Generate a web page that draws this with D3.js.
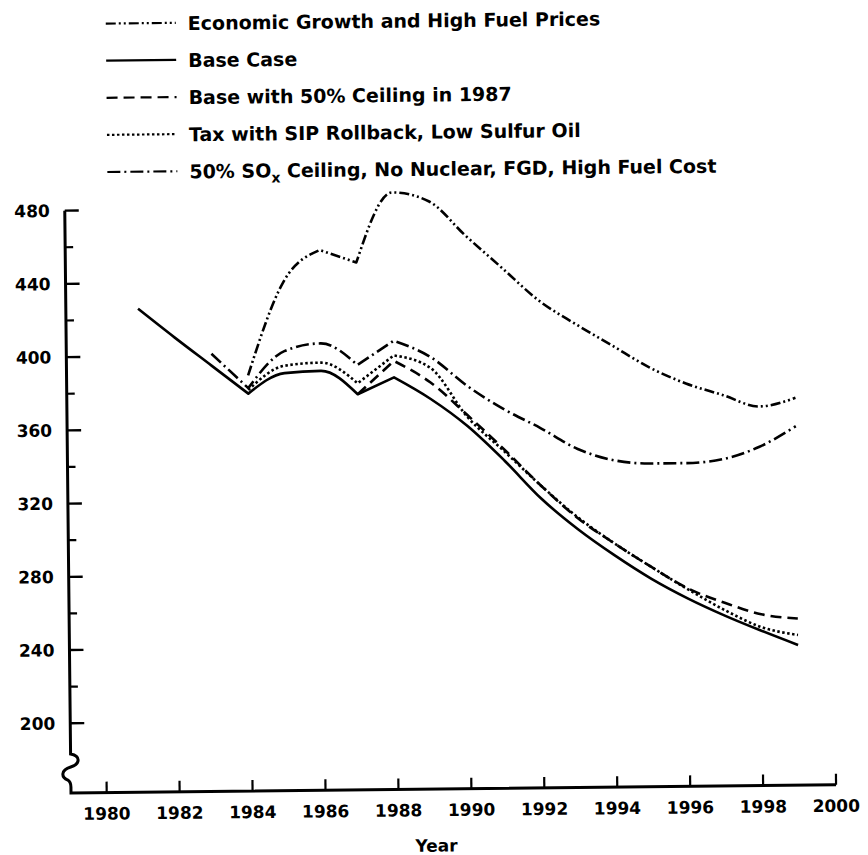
<!DOCTYPE html>
<html>
<head>
<meta charset="utf-8">
<script src="https://cdn.jsdelivr.net/npm/d3@7/dist/d3.min.js"></script>
<style>
  html, body { margin: 0; padding: 0; background: #fff; }
  svg { display: block; }
  text { font-family: "DejaVu Sans", sans-serif; font-weight: bold; fill: #000; }
</style>
</head>
<body>
<div id="chart"></div>
<script>
// Years plotted on the x-axis
const years = [1981, 1982, 1983, 1984, 1985, 1986, 1987, 1988, 1989, 1990,
               1991, 1992, 1993, 1994, 1995, 1996, 1997, 1998, 1999];

// One value per year, null where the case is not drawn
const econGrowth   = [null, null, null, 389, 440, 457, 450, 488, 483, 464, 446, 428, 415, 403, 391, 382, 375.5, 369, 373.5];
const baseCase     = [426, 410, 394.5, 379, 390, 391, 378, 387, 375, 360, 341, 320, 303, 288.5, 275.5, 264.5, 255, 246.5, 238.5];
const baseCeiling  = [null, null, null, null, null, null, 378, 396, 384, 366, 347, 327, 309, 295, 282, 270, 262, 255.5, 253];
const taxRollback  = [null, null, null, 381, 394, 395.5, 384, 399, 392, 365, 346, 327, 309.5, 295, 282, 269.5, 258, 248.5, 244];
const soxCeiling   = [null, null, 401, 382, 402, 406, 394, 407, 398, 382, 369, 358.5, 347, 340.5, 338.5, 338.5, 340.5, 347, 358];

// Legend labels in the order they are listed ("_x" marks the subscript)
const seriesNames = [
    'Economic Growth and High Fuel Prices',
    'Base Case',
    'Base with 50% Ceiling in 1987',
    'Tax with SIP Rollback, Low Sulfur Oil',
    '50% SO_x Ceiling, No Nuclear, FGD, High Fuel Cost'
];
const seriesValues = [econGrowth, baseCase, baseCeiling, taxRollback, soxCeiling];

// Axis ticks
const xTicks = [1980, 1982, 1984, 1986, 1988, 1990, 1992, 1994, 1996, 1998, 2000];
const yTicks = [200, 240, 280, 320, 360, 400, 440, 480];
const yMinorTicks = [220, 260, 300, 340, 380, 420, 460];

class LineChart {
    constructor(_config) {
        this.config = {
            parentElement: _config.parentElement,
            containerWidth: _config.containerWidth,
            containerHeight: _config.containerHeight,
            origin: {x: 71, y: 793},
            xRange: [106.7, 836.1],
            yRange: [723.3, 210.6],
            tilt: -0.613,            // the page is scanned a little crooked
            lineWidth: 2.6,
            axisWidth: 3,
            dashes: ['10,3,2,3,2,3', null, '11,6', '2.5,2.5', '13,4,2,4'],
            legendTop: 24,
            legendStep: 37.1,
            legendLineX: [114, 184],
            legendTextX: 196
        };
        this.initVis();
    }

    initVis() {
        let vis = this;
        const c = vis.config;

        vis.svg = d3.select(c.parentElement).append('svg')
            .attr('width', c.containerWidth)
            .attr('height', c.containerHeight);

        // Whole drawing tilted around the axis corner
        vis.chart = vis.svg.append('g')
            .attr('transform', `rotate(${c.tilt},${c.origin.x},${c.origin.y})`);

        vis.xScale = d3.scaleLinear().domain([1980, 2000]).range(c.xRange);
        vis.yScale = d3.scaleLinear().domain([200, 480]).range(c.yRange);

        vis.line = d3.line()
            .x(d => vis.xScale(d.year))
            .y(d => vis.yScale(d.value))
            .curve(d3.curveMonotoneX);

        vis.series = seriesValues.map((vals, i) => ({
            name: seriesNames[i],
            dash: c.dashes[i],
            points: years.map((y, j) => ({year: y, value: vals[j]})).filter(d => d.value !== null)
        }));

        vis.renderVis();
    }

    // Split at sharp turns so the corners stay pointed, then join into one path
    pathFor(points) {
        let vis = this;
        const segs = [];
        let start = 0;
        for (let i = 1; i < points.length - 1; i++) {
            const s1 = points[i].value - points[i - 1].value;
            const s2 = points[i + 1].value - points[i].value;
            if (s1 * s2 < 0 && Math.min(Math.abs(s1), Math.abs(s2)) > 5) {
                segs.push(points.slice(start, i + 1));
                start = i;
            }
        }
        segs.push(points.slice(start));
        return segs.map((s, i) => i ? vis.line(s).replace(/^M/, 'L') : vis.line(s)).join('');
    }

    renderVis() {
        let vis = this;
        const c = vis.config;
        const ox = c.origin.x, oy = c.origin.y;

        // Axis lines with the break mark low on the y-axis
        const yTop = vis.yScale(480);
        const xEnd = vis.xScale(2000);
        vis.chart.append('path')
            .attr('d', `M${ox},${yTop} L${ox},754 C${ox + 10},756 ${ox + 10},764 ${ox},767 ` +
                       `C${ox - 10},770 ${ox - 10},777 ${ox - 3},780 C${ox},782 ${ox},784 ${ox},787 ` +
                       `L${ox},${oy} L${xEnd},${oy}`)
            .attr('fill', 'none')
            .attr('stroke', '#000')
            .attr('stroke-width', c.axisWidth)
            .attr('stroke-linejoin', 'miter');

        // y ticks
        vis.chart.selectAll('.y-tick')
            .data(yTicks)
            .join('line')
            .attr('class', 'y-tick')
            .attr('x1', ox).attr('x2', ox + 14)
            .attr('y1', d => vis.yScale(d)).attr('y2', d => vis.yScale(d))
            .attr('stroke', '#000').attr('stroke-width', 2.4);
        vis.chart.selectAll('.y-minor')
            .data(yMinorTicks)
            .join('line')
            .attr('class', 'y-minor')
            .attr('x1', ox).attr('x2', ox + 8)
            .attr('y1', d => vis.yScale(d)).attr('y2', d => vis.yScale(d))
            .attr('stroke', '#000').attr('stroke-width', 2.2);
        vis.chart.selectAll('.y-label')
            .data(yTicks)
            .join('text')
            .attr('class', 'y-label')
            .attr('x', 56)
            .attr('y', d => vis.yScale(d))
            .attr('dy', '0.36em')
            .attr('text-anchor', 'end')
            .style('font-size', '17px')
            .text(d => d);

        // x ticks
        vis.chart.selectAll('.x-tick')
            .data(xTicks)
            .join('line')
            .attr('class', 'x-tick')
            .attr('x1', d => vis.xScale(d)).attr('x2', d => vis.xScale(d))
            .attr('y1', oy).attr('y2', oy - 11)
            .attr('stroke', '#000').attr('stroke-width', 2.2);
        vis.chart.selectAll('.x-label')
            .data(xTicks)
            .join('text')
            .attr('class', 'x-label')
            .attr('x', d => vis.xScale(d))
            .attr('y', 820)
            .attr('text-anchor', 'middle')
            .style('font-size', '17px')
            .text(d => d);
        vis.chart.append('text')
            .attr('x', 436)
            .attr('y', 855.5)
            .attr('text-anchor', 'middle')
            .style('font-size', '17px')
            .text('Year');

        // Data lines
        vis.chart.selectAll('.series')
            .data(vis.series)
            .join('path')
            .attr('class', 'series')
            .attr('d', d => vis.pathFor(d.points))
            .attr('fill', 'none')
            .attr('stroke', '#000')
            .attr('stroke-width', c.lineWidth)
            .attr('stroke-linejoin', 'round')
            .attr('stroke-dasharray', d => d.dash);

        // Legend
        const legend = vis.chart.selectAll('.legend-row')
            .data(vis.series)
            .join('g')
            .attr('class', 'legend-row')
            .attr('transform', (d, i) => `translate(0,${c.legendTop + i * c.legendStep})`);
        legend.append('line')
            .attr('x1', c.legendLineX[0]).attr('x2', c.legendLineX[1])
            .attr('y1', 0).attr('y2', 0)
            .attr('stroke', '#000')
            .attr('stroke-width', 2.2)
            .attr('stroke-dasharray', d => d.dash);
        legend.each(function(d) {
            const t = d3.select(this).append('text')
                .attr('x', c.legendTextX)
                .attr('y', 7.2)
                .style('font-size', '19px');
            const parts = d.name.split('_x');
            t.append('tspan').text(parts[0]);
            if (parts.length > 1) {
                t.append('tspan').attr('dy', 5).style('font-size', '14px').text('x');
                t.append('tspan').attr('dy', -5).text(parts[1]);
            }
        });
    }
}

const chart = new LineChart({
    parentElement: '#chart',
    containerWidth: 868,
    containerHeight: 855
});
</script>
</body>
</html>
